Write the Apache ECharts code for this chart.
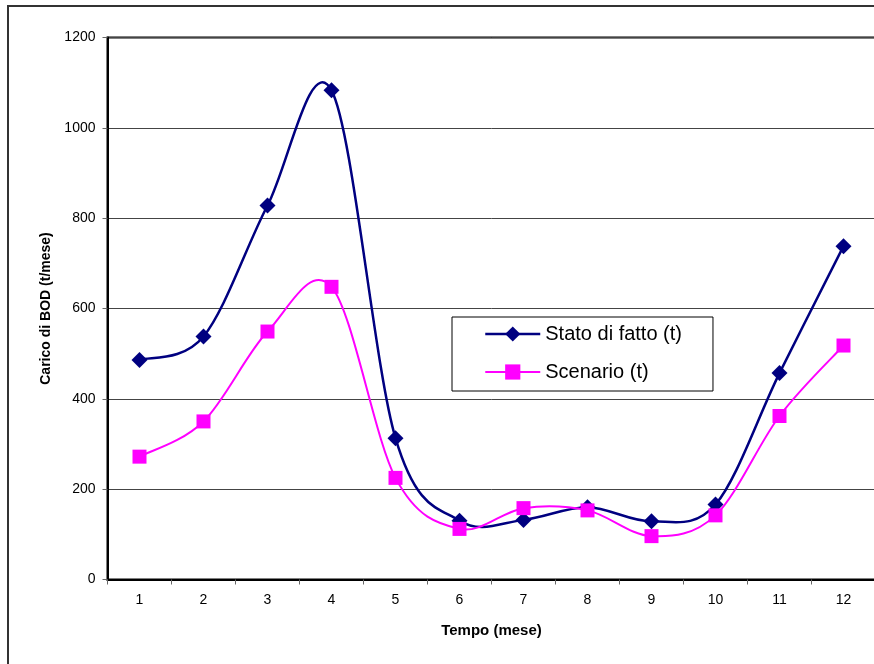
<!DOCTYPE html>
<html>
<head>
<meta charset="utf-8">
<script src="https://cdn.jsdelivr.net/npm/echarts@6/dist/echarts.min.js"></script>
<style>
  html, body { margin: 0; padding: 0; background: #fff; }
  #chart { width: 874px; height: 664px; }
</style>
</head>
<body>
<div id="chart"></div>
<script>
// Months on the x axis
const months = ['1', '2', '3', '4', '5', '6', '7', '8', '9', '10', '11', '12'];

// BOD load per month (t/mese)
const statoDiFatto = [486, 538, 828, 1083, 313, 130, 132, 160, 129, 166, 457, 738];
const scenario = [272, 350, 549, 648, 225, 112, 158, 153, 96, 142, 362, 518];

// Value axis range
const yMin = 0;
const yMax = 1200;
const yStep = 200;

const NAVY = '#000080';
const MAGENTA = '#FF00FF';
const FONT = 'Liberation Sans, Arial, sans-serif';

// Smoothed curve through the points (cubic Bezier, Catmull-Rom style tangents
// with a 1/6 factor), one segment per data item, positioned via the axes.
function splineSeries(values, color, width, z) {
  const last = values.length - 1;
  return {
    type: 'custom',
    name: '_curve',
    silent: true,
    z: z,
    clip: true,
    data: values.slice(0, last).map((v, i) => [i, v]),
    encode: { x: 0, y: 1 },
    renderItem: (params, api) => {
      const i = params.dataIndex;
      const pt = (k) => {
        const c = Math.max(0, Math.min(last, k));
        return api.coord([c, values[c]]);
      };
      const p0 = pt(i - 1), p1 = pt(i), p2 = pt(i + 1), p3 = pt(i + 2);
      return {
        type: 'bezierCurve',
        shape: {
          x1: p1[0], y1: p1[1],
          x2: p2[0], y2: p2[1],
          cpx1: p1[0] + (p2[0] - p0[0]) / 6,
          cpy1: p1[1] + (p2[1] - p0[1]) / 6,
          cpx2: p2[0] - (p3[0] - p1[0]) / 6,
          cpy2: p2[1] - (p3[1] - p1[1]) / 6
        },
        style: { stroke: color, lineWidth: width, fill: 'none' }
      };
    }
  };
}

const chart = echarts.init(document.getElementById('chart'), null, { renderer: 'canvas' });

chart.setOption({
  backgroundColor: '#ffffff',
  animation: false,
  graphic: [
    {
      type: 'rect',
      silent: true,
      z: -10,
      shape: { x: 8, y: 6, width: 1000, height: 1000 },
      style: { fill: 'none', stroke: '#333', lineWidth: 2 }
    }
  ],
  grid: {
    left: 107.5,
    top: 37.5,
    width: 768,
    height: 542,
    outerBoundsMode: 'none',
    containLabel: false,
    show: true,
    borderColor: '#000',
    borderWidth: 2,
    backgroundColor: 'transparent'
  },
  legend: {
    orient: 'vertical',
    left: 452,
    top: 317,
    padding: [7, 31, 9, 32],
    itemWidth: 55,
    itemHeight: 19,
    itemGap: 18,
    backgroundColor: '#fff',
    borderColor: '#000',
    borderWidth: 1,
    textStyle: { fontFamily: FONT, fontSize: 20, color: '#000' },
    data: [
      { name: 'Stato di fatto (t)', lineStyle: { color: NAVY, width: 2.5, opacity: 1 } },
      { name: 'Scenario (t)', lineStyle: { color: MAGENTA, width: 2, opacity: 1 } }
    ]
  },
  xAxis: {
    type: 'category',
    data: months,
    boundaryGap: true,
    name: 'Tempo (mese)',
    nameLocation: 'middle',
    nameGap: 44,
    nameTextStyle: { fontFamily: FONT, fontSize: 15, fontWeight: 'bold', color: '#000' },
    axisLine: { lineStyle: { color: '#000', width: 2 } },
    axisTick: { show: true, length: 5, lineStyle: { color: '#666', width: 1 } },
    axisLabel: { fontFamily: FONT, fontSize: 14, color: '#000', margin: 14 },
    splitLine: { show: false }
  },
  yAxis: {
    type: 'value',
    min: yMin,
    max: yMax,
    interval: yStep,
    name: 'Carico di BOD (t/mese)',
    nameLocation: 'middle',
    nameGap: 54,
    nameRotate: 90,
    nameTextStyle: { fontFamily: FONT, fontSize: 14, fontWeight: 'bold', color: '#000' },
    axisLine: { show: true, lineStyle: { color: '#000', width: 2 } },
    axisTick: { show: true, length: 5, lineStyle: { color: '#666', width: 1 } },
    axisLabel: {
      fontFamily: FONT, fontSize: 14, color: '#000', margin: 12,
      formatter: (v) => String(v)
    },
    splitLine: { show: true, lineStyle: { color: '#444', width: 1 } }
  },
  series: [
    splineSeries(statoDiFatto, NAVY, 2.5, 2),
    {
      name: 'Stato di fatto (t)',
      type: 'line',
      data: statoDiFatto,
      symbol: 'diamond',
      symbolSize: 16,
      showAllSymbol: true,
      lineStyle: { color: NAVY, width: 0, opacity: 0 },
      itemStyle: { color: NAVY },
      z: 3
    },
    splineSeries(scenario, MAGENTA, 2, 4),
    {
      name: 'Scenario (t)',
      type: 'line',
      data: scenario,
      symbol: 'rect',
      symbolSize: 14,
      showAllSymbol: true,
      lineStyle: { color: MAGENTA, width: 0, opacity: 0 },
      itemStyle: { color: MAGENTA },
      z: 5
    }
  ]
});
</script>
</body>
</html>
